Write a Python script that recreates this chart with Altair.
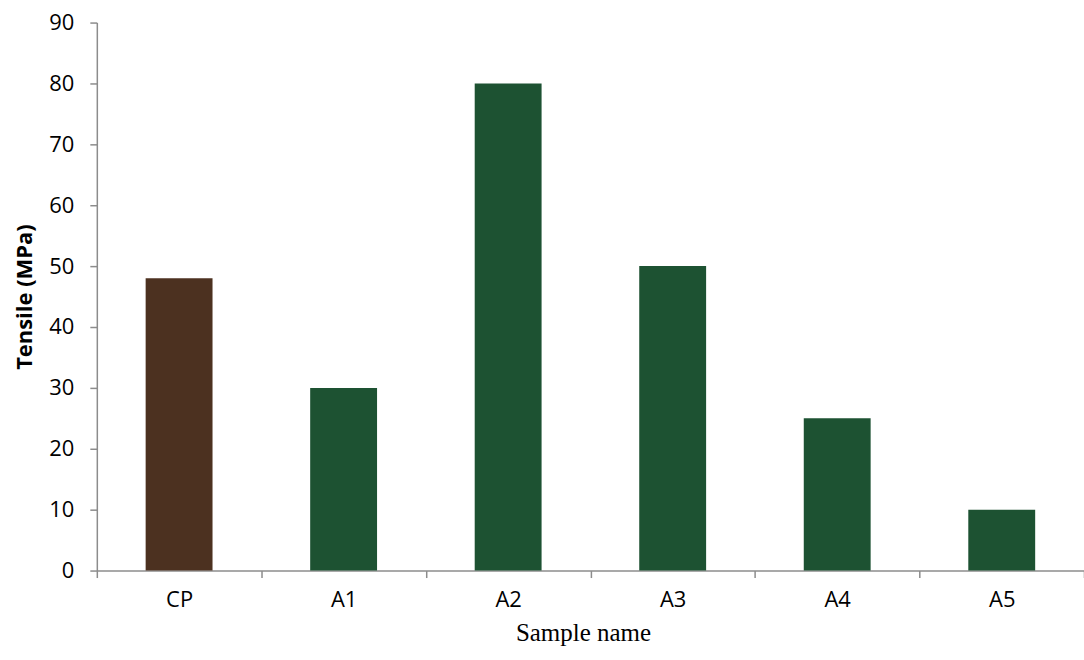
import altair as alt
import pandas as pd

samples = ["CP", "A1", "A2", "A3", "A4", "A5"]
tensile = [48, 30, 80, 50, 25, 10]
groups = ["control", "sample", "sample", "sample", "sample", "sample"]

df = pd.DataFrame({"Sample": samples, "Tensile": tensile, "Group": groups})

axis_color = "#8c8c8c"
label_font = "Open Sans"

chart = alt.Chart(df).mark_bar(size=67).encode(
    x=alt.X("Sample:N", sort=samples,
            scale=alt.Scale(paddingInner=0.0, paddingOuter=0.0),
            axis=alt.Axis(title="Sample name", titleFont="Liberation Serif",
                          titleFontSize=25, titleFontWeight="normal", titleColor="#000",
                          titlePadding=10, titleX=487, titleAlign="center",
                          labelFont=label_font, labelFontSize=22,
                          labelColor="#000", labelAngle=0, labelPadding=12,
                          tickBand="extent", tickSize=7, tickColor=axis_color,
                          domainColor=axis_color, domainWidth=1.5, tickWidth=1.5)),
    y=alt.Y("Tensile:Q", scale=alt.Scale(domain=[0, 90], nice=False),
            axis=alt.Axis(title="Tensile (MPa)", titleFont=label_font,
                          titleFontSize=22, titleFontWeight="bold", titleColor="#000",
                          titlePadding=12, values=list(range(0, 91, 10)),
                          labelFont=label_font, labelFontSize=22, labelColor="#000",
                          labelPadding=16, tickSize=7, tickColor=axis_color,
                          domainColor=axis_color, domainWidth=1.5, tickWidth=1.5,
                          grid=False)),
    color=alt.Color("Group:N", scale=alt.Scale(domain=["control", "sample"],
                                               range=["#4c3120", "#1d5232"]),
                    legend=None),
).properties(
    width=989, height=549,
    autosize=alt.AutoSizeParams(type="none"),
    padding={"left": 97, "top": 22, "right": 0, "bottom": 89},
).configure_view(stroke=None)

chart.save("out.html", embed_options={"renderer": "svg", "actions": False})
